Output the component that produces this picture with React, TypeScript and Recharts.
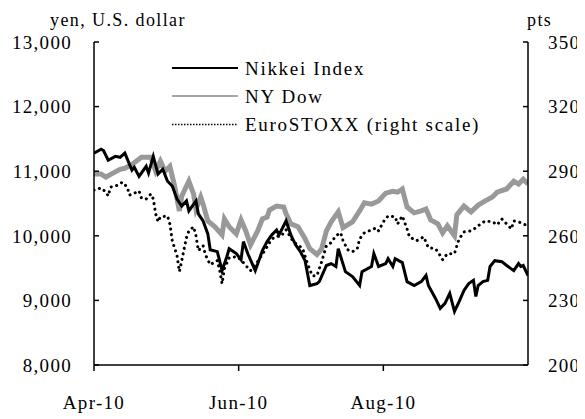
import { Label, Legend, Line, LineChart, XAxis, YAxis } from "recharts";

// days counted from 1 Apr 2010
const xTicks = [0, 61, 122];
const xTickLabels = ["Apr-10", "Jun-10", "Aug-10"];
const leftTicks = [8000, 9000, 10000, 11000, 12000, 13000];
const rightTicks = [200, 230, 260, 290, 320, 350];

const nikkeiDays = [
  0, 3, 4, 6, 9, 11, 13, 16, 17, 19, 22, 23, 25, 27, 29, 31, 33, 35, 37, 39,
  40, 43, 44, 46, 48, 49, 52, 54, 56, 57, 60, 62, 63, 65, 68, 71, 73, 75, 77,
  78, 81, 83, 85, 87, 89, 91, 94, 95, 98, 100, 102, 103, 106, 109, 112, 113,
  117, 118, 120, 123, 124, 126, 127, 130, 132, 135, 138, 140, 141, 144, 146,
  148, 150, 152, 154, 156, 158, 160, 161, 162, 164, 166, 167, 169, 172, 174,
  177, 179, 180, 181, 183,
];
const nikkeiValues = [
  11280, 11340, 11320, 11170, 11230, 11215, 11280, 11015, 11060, 10920, 11075,
  10970, 11230, 10955, 11030, 10845, 10770, 10570, 10460, 10540, 10385, 10540,
  10340, 10230, 10030, 9785, 9755, 9460, 9675, 9800, 9725, 9630, 9910, 9710,
  9460, 9770, 9910, 10015, 10090, 10015, 10230, 10015, 9860, 9755, 9615, 9230,
  9260, 9290, 9540, 9570, 9525, 9800, 9445, 9370, 9230, 9445, 9525, 9725, 9525,
  9570, 9645, 9525, 9645, 9585, 9290, 9230, 9290, 9385, 9230, 9030, 8877, 8955,
  9110, 8830, 8985, 9155, 9260, 9310, 9060, 9230, 9290, 9310, 9525, 9615, 9600,
  9540, 9460, 9570, 9525, 9540, 9385,
];

const dowDays = [
  0, 3, 5, 8, 11, 13, 16, 20, 24, 26, 28, 30, 32, 34, 36, 37, 40, 42, 43, 45,
  46, 48, 51, 54, 55, 57, 60, 62, 64, 66, 69, 71, 73, 74, 77, 80, 81, 83, 86,
  89, 91, 94, 96, 98, 100, 103, 105, 109, 112, 114, 117, 120, 123, 126, 128,
  130, 132, 135, 138, 140, 142, 145, 147, 149, 152, 153, 156, 159, 162, 165,
  168, 170, 174, 177, 179, 181, 183,
];
const dowValues = [
  10955, 10955, 10910, 10970, 11030, 11045, 11105, 11215, 11215, 11000, 11155,
  11000, 11075, 10770, 10385, 10615, 10845, 10645, 10415, 10600, 10490, 10230,
  10140, 10015, 10260, 10140, 10030, 10245, 10075, 9860, 10075, 10260, 10290,
  10400, 10460, 10445, 10340, 10185, 10140, 9955, 9800, 9710, 9800, 10075,
  10215, 10370, 10125, 10215, 10385, 10510, 10490, 10540, 10660, 10690, 10675,
  10725, 10445, 10355, 10385, 10415, 10245, 10185, 10045, 10155, 10000, 10325,
  10460, 10370, 10475, 10540, 10600, 10675, 10725, 10845, 10800, 10875, 10800,
];

const euroDays = [
  0, 3, 5, 6, 7, 10, 12, 14, 15, 17, 19, 20, 22, 24, 25, 26, 27, 28, 31, 32,
  33, 35, 36, 37, 38, 39, 40, 42, 43, 44, 46, 47, 49, 52, 53, 54, 55, 57, 60,
  62, 64, 66, 69, 72, 74, 76, 79, 81, 84, 86, 88, 90, 92, 94, 96, 98, 100, 102,
  104, 105, 107, 109, 111, 112, 114, 116, 119, 120, 122, 124, 127, 128, 130,
  132, 133, 136, 139, 141, 144, 146, 147, 149, 152, 153, 154, 156, 159, 161,
  163, 165, 168, 170, 172, 174, 176, 177, 179, 183,
];
const euroValues = [
  281.2, 282.2, 280.3, 278.5, 282.6, 283.5, 284.9, 282.6, 278.9, 279.8, 280.8,
  277.5, 277.1, 279.4, 277.1, 270.2, 266.5, 268.8, 269.2, 265.5, 257.7, 250.8,
  243.4, 248.5, 254.0, 259.1, 262.3, 264.2, 260.0, 253.1, 255.4, 251.2, 246.6,
  248.5, 243.8, 237.8, 244.8, 249.8, 250.3, 248.9, 246.2, 243.8, 248.0, 253.1,
  256.8, 259.5, 260.0, 262.8, 257.2, 255.8, 254.0, 247.1, 241.5, 241.5, 248.0,
  255.4, 256.8, 260.0, 261.4, 257.7, 253.5, 252.6, 254.0, 258.6, 261.4, 262.3,
  263.7, 262.3, 266.5, 269.2, 268.8, 265.5, 269.2, 263.2, 259.5, 257.7, 259.5,
  254.5, 254.0, 250.8, 248.9, 251.7, 251.7, 255.4, 258.6, 261.8, 262.3, 263.7,
  265.5, 266.9, 266.5, 265.1, 267.8, 265.5, 263.2, 266.9, 266.5, 264.6,
];

const toRows = (days: number[], values: number[]) =>
  days.map((day, i) => ({ day, value: values[i] }));

const nikkei = toRows(nikkeiDays, nikkeiValues);
const dow = toRows(dowDays, dowValues);
const euro = toRows(euroDays, euroValues);

const FONT = "'Liberation Serif', 'Times New Roman', serif";
const tickStyle = { fill: "#000", fontSize: 19, fontFamily: FONT, letterSpacing: 1.3 };
const axisStroke = { stroke: "#000", strokeWidth: 1.5 };

function ChartLegend() {
  const rows = [
    { name: "Nikkei Index", stroke: "#000", dash: undefined, y: 18 },
    { name: "NY Dow", stroke: "#a6a6a6", dash: undefined, y: 46 },
    { name: "EuroSTOXX (right scale)", stroke: "#000", dash: "1.5 1.5", y: 74.5 },
  ];
  return (
    <svg width={380} height={90} style={{ display: "block" }}>
      {rows.map((r) => (
        <g key={r.name}>
          <line
            x1={12}
            x2={78}
            y1={r.y}
            y2={r.y}
            stroke={r.stroke}
            strokeWidth={r.dash ? 1.5 : 2}
            strokeDasharray={r.dash}
          />
          <text
            x={85}
            y={r.y + 6.5}
            fontSize={19}
            fontFamily={FONT}
            letterSpacing={1.7}
            fill="#000"
          >
            {r.name}
          </text>
        </g>
      ))}
    </svg>
  );
}

export default function App() {
  return (
    <LineChart
      width={577}
      height={411}
      margin={{ top: 34, right: 0, bottom: 0, left: 0 }}
    >
      <XAxis
        xAxisId="x"
        type="number"
        dataKey="day"
        domain={[0, 183]}
        ticks={xTicks}
        tickFormatter={(v: number) => xTickLabels[xTicks.indexOf(v)]}
        height={54}
        tick={tickStyle}
        tickSize={6}
        tickMargin={25}
        axisLine={axisStroke}
        tickLine={axisStroke}
        allowDataOverflow
      />
      <YAxis
        yAxisId="left"
        orientation="left"
        domain={[8000, 13000]}
        ticks={leftTicks}
        tickFormatter={(v: number) => v.toLocaleString("en-US")}
        width={86}
        tick={tickStyle}
        tickSize={-5}
        tickMargin={27}
        axisLine={axisStroke}
        tickLine={axisStroke}
        interval={0}
      >
        <Label
          content={({ viewBox }: any) => (
            <text
              x={viewBox.x + 42}
              y={viewBox.y - 16}
              fontSize={18}
              fontFamily={FONT}
              letterSpacing={1.4}
              fill="#000"
            >
              yen, U.S. dollar
            </text>
          )}
        />
      </YAxis>
      <YAxis
        yAxisId="right"
        orientation="right"
        domain={[200, 350]}
        ticks={rightTicks}
        width={57}
        tick={tickStyle}
        tickSize={-5}
        tickMargin={25}
        axisLine={axisStroke}
        tickLine={axisStroke}
        interval={0}
      >
        <Label
          content={({ viewBox }: any) => (
            <text
              x={viewBox.x - 1}
              y={viewBox.y - 16}
              fontSize={18}
              fontFamily={FONT}
              letterSpacing={1.4}
              fill="#000"
            >
              pts
            </text>
          )}
        />
      </YAxis>
      <Legend
        content={() => <ChartLegend />}
        layout="horizontal"
        verticalAlign="middle"
        align="center"
        wrapperStyle={{ top: 42, left: 152, width: 380 }}
      />
      <Line
        data={dow}
        xAxisId="x"
        yAxisId="left"
        dataKey="value"
        name="NY Dow"
        stroke="#999999"
        strokeWidth={5}
        dot={false}
        isAnimationActive={false}
      />
      <Line
        data={euro}
        xAxisId="x"
        yAxisId="right"
        dataKey="value"
        name="EuroSTOXX (right scale)"
        stroke="#000"
        strokeWidth={3}
        strokeDasharray="0.1 5.5"
        strokeLinecap="round"
        dot={false}
        isAnimationActive={false}
      />
      <Line
        data={nikkei}
        xAxisId="x"
        yAxisId="left"
        dataKey="value"
        name="Nikkei Index"
        stroke="#000"
        strokeWidth={3}
        dot={false}
        isAnimationActive={false}
      />
    </LineChart>
  );
}
